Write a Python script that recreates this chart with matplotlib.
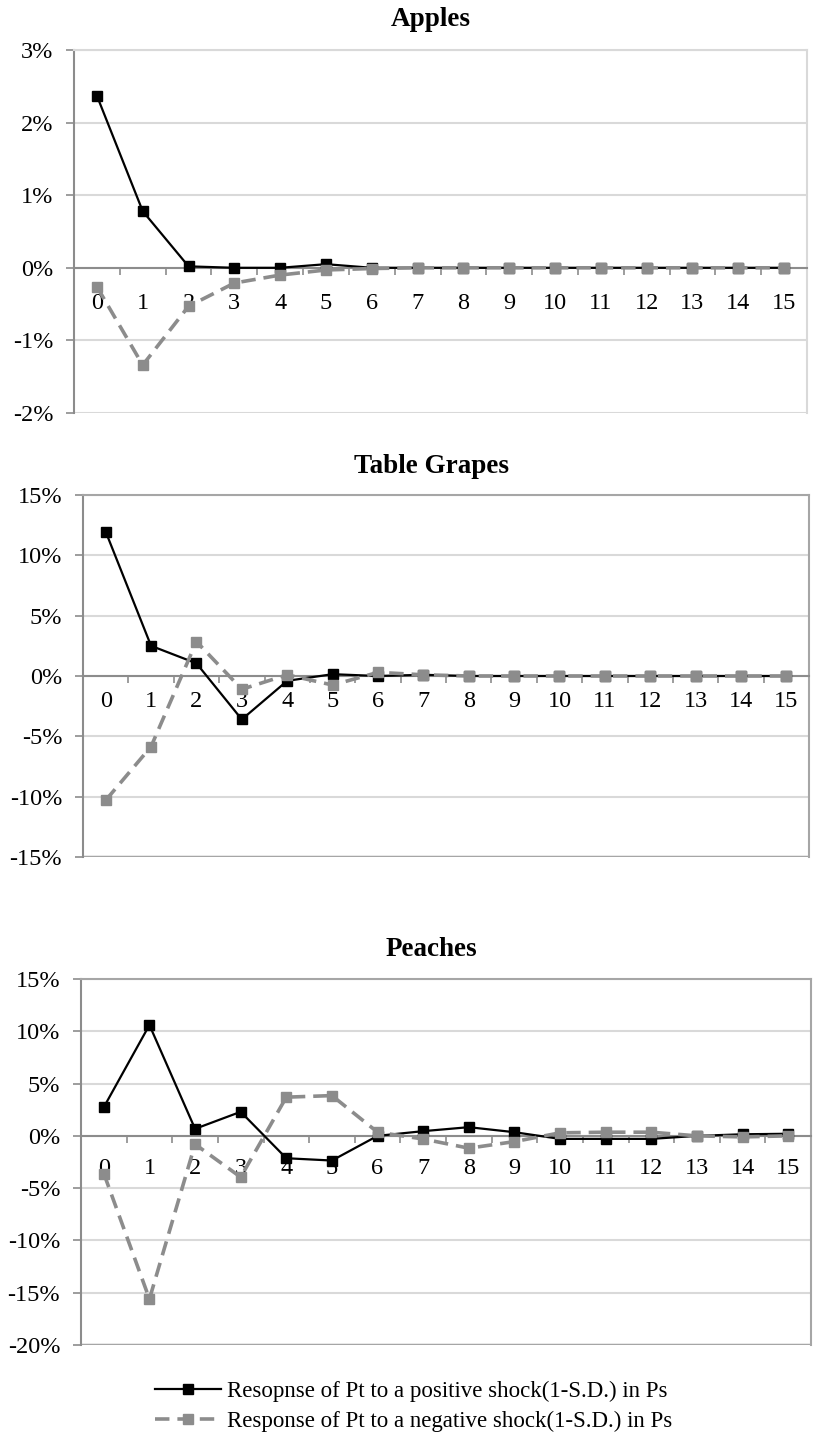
import numpy as np
import matplotlib
matplotlib.use("Agg")
import matplotlib.pyplot as plt
from matplotlib.ticker import FixedLocator, FuncFormatter

plt.rcParams['font.family'] = ['Liberation Serif', 'DejaVu Serif']
plt.rcParams['axes.unicode_minus'] = False

# 期間 (0-15)
periods = np.arange(16)

# Apples (%)
apples_pos = [2.37, 0.78, 0.02, 0.0, 0.0, 0.05, 0.0, 0.0, 0.0, 0.0, 0.0, 0.0, 0.0, 0.0, 0.0, 0.0]
apples_neg = [-0.26, -1.34, -0.53, -0.21, -0.10, -0.03, -0.01, 0.0, 0.0, 0.0, 0.0, 0.0, 0.0, 0.0, 0.0, 0.0]

# Table Grapes (%)
grapes_pos = [11.96, 2.5, 1.05, -3.6, -0.4, 0.15, 0.0, 0.1, 0.0, 0.0, 0.0, 0.0, 0.0, 0.0, 0.0, 0.0]
grapes_neg = [-10.3, -5.85, 2.85, -1.1, 0.1, -0.75, 0.3, 0.1, 0.0, 0.0, 0.0, 0.0, 0.0, 0.0, 0.0, 0.0]

# Peaches (%)
peaches_pos = [2.74, 10.6, 0.67, 2.3, -2.14, -2.36, 0.0, 0.45, 0.83, 0.35, -0.29, -0.29, -0.29, 0.0, 0.15, 0.2]
peaches_neg = [-3.6, -15.6, -0.8, -3.95, 3.7, 3.85, 0.35, -0.3, -1.18, -0.55, 0.29, 0.35, 0.35, 0.0, -0.1, 0.0]

titles = ["Apples", "Table Grapes", "Peaches"]
label_pos = "Resopnse of Pt to a positive shock(1-S.D.) in Ps"
label_neg = "Response of Pt to a negative shock(1-S.D.) in Ps"

W, H = 814, 1445
fig = plt.figure(figsize=(W / 100, H / 100), dpi=100)

def px_axes(left, right, top, bottom):
    return fig.add_axes([left / W, 1 - bottom / H, (right - left) / W, (bottom - top) / H])

# (left, right, top, bottom, ymin, ymax, step, xpad, spine_col, title_y)
panels = [
    (74, 807, 50, 413, -2, 3, 1, 19, '#d9d9d9', 19),
    (83, 809, 495, 857, -15, 15, 5, 12, '#a6a6a6', 466),
    (81, 811, 979, 1345, -20, 15, 5, 17, '#a6a6a6', 949),
]
data = [(apples_pos, apples_neg), (grapes_pos, grapes_neg), (peaches_pos, peaches_neg)]

fs = 17.5
for (l, r, t, b, ymin, ymax, step, xpad, scol, ty), (pos, neg), title in zip(panels, data, titles):
    ax = px_axes(l, r, t, b)
    ax.set_xlim(-0.5, 15.5)
    ax.set_ylim(ymin, ymax)
    yt = np.arange(ymin, ymax + step / 2, step)
    ax.yaxis.set_major_locator(FixedLocator(yt))
    ax.yaxis.set_major_formatter(FuncFormatter(lambda v, p: '%d%%' % round(v)))
    ax.grid(axis='y', color='#d9d9d9', lw=1.5, zorder=0)
    ax.set_axisbelow(True)
    ax.tick_params(axis='y', direction='out', length=6, width=1.2, color='#8c8c8c',
                   pad=9, labelsize=fs)

    # x軸は0の位置
    ax.spines['bottom'].set_position(('data', 0))
    ax.spines['bottom'].set_color('#8c8c8c')
    ax.spines['bottom'].set_linewidth(1.5)
    ax.set_xticks(periods)
    ax.set_xticklabels([str(p) for p in periods])
    ax.set_xticks(np.arange(-0.5, 16, 1), minor=True)
    ax.tick_params(axis='x', which='major', length=0, pad=xpad - 1, labelsize=fs)
    ax.tick_params(axis='x', which='minor', direction='out', length=5, width=1.2, color='#8c8c8c')

    ax.spines['left'].set_color('#8c8c8c')
    ax.spines['left'].set_linewidth(1.5)
    for s in ['top', 'right']:
        ax.spines[s].set_color(scol)
        ax.spines[s].set_linewidth(1.5)
    if scol == '#a6a6a6':
        # 下枠
        ax.axhline(ymin, color=scol, lw=2.5, zorder=1)

    ax.plot(periods, pos, color='black', lw=1.6, marker='s', markersize=6.5,
            label=label_pos, zorder=3, clip_on=False)
    ax.plot(periods, neg, color='#8c8c8c', lw=2.6, ls=(0, (4, 2.2)), marker='s',
            markersize=6.5, label=label_neg, zorder=4, clip_on=False)

    fig.text(431 / W, 1 - ty / H, title, ha='center', va='center',
             fontsize=19.5, fontweight='bold')

handles, labels = ax.get_legend_handles_labels()
fig.legend(handles, labels, loc='upper left', bbox_to_anchor=(155 / W, 1 - 1381 / H),
           frameon=False, fontsize=16.5, handlelength=2.9, handletextpad=0.25,
           labelspacing=0.38, borderpad=0, borderaxespad=0)

fig.savefig('out.png', dpi=100)
